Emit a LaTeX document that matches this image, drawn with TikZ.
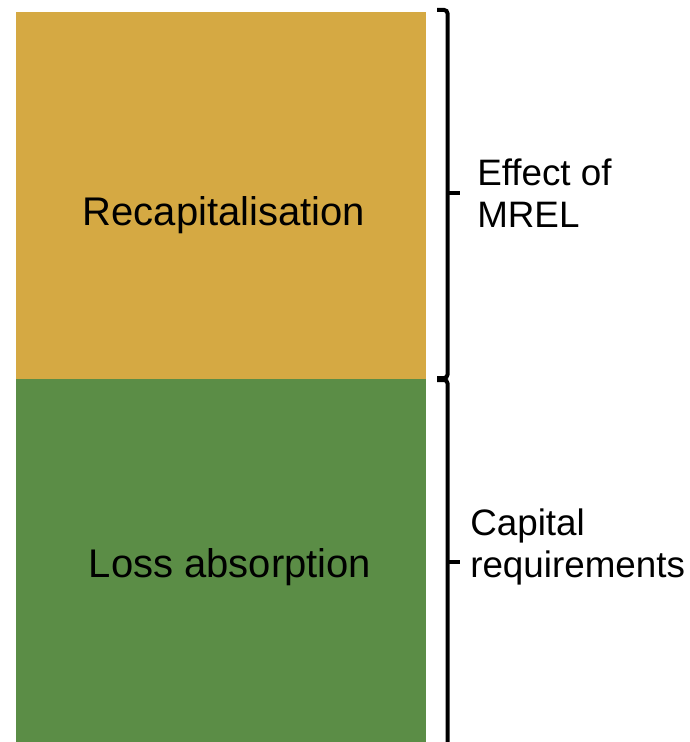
\documentclass[tikz,border=0pt]{standalone}
\usepackage{fontspec}
\setmainfont{Liberation Sans}
\definecolor{goldbox}{HTML}{D5A943}
\definecolor{greenbox}{HTML}{5B8D46}
\begin{document}
\begin{tikzpicture}[x=0.75pt,y=-0.75pt,
  block/.style={draw=none,inner sep=0pt,outer sep=0pt,anchor=north west,minimum width=307.5pt},
  maintext/.style={inner sep=0pt,anchor=base,font=\fontsize{30}{35}\selectfont},
  sidetext/.style={inner sep=0pt,anchor=base west,align=left,font=\fontsize{27.6}{31.5}\selectfont},
  bracket/.style={draw=black,line width=3pt,rounded corners=2.5pt}]
\useasboundingbox (0,0) rectangle (689,742);
\node[block,fill=goldbox,minimum height=275.25pt] (recap) at (16,12) {};
\node[block,fill=greenbox,minimum height=272.25pt] (loss) at (16,379) {};
\node[maintext] (recapt) at (224,225) {Recapitalisation};
\node[maintext] (losst) at (230,577) {Loss absorption};
% brackets
\coordinate (b1a) at (437,10);
\coordinate (b1b) at (447.5,10);
\coordinate (b1c) at (447.5,378);
\coordinate (b1d) at (437,378);
\coordinate (b1m) at (447.5,193);
\coordinate (b1t) at (460,193);
\coordinate (b2a) at (437,380);
\coordinate (b2b) at (447.5,380);
\coordinate (b2c) at (447.5,750);
\coordinate (b2m) at (447.5,562);
\coordinate (b2t) at (460,562);
\draw[bracket] (b1a) -- (b1b) -- (b1c) -- (b1d);
\draw[bracket] (b1m) -- (b1t);
\draw[bracket] (b2a) -- (b2b) -- (b2c);
\draw[bracket] (b2m) -- (b2t);
\node[sidetext] (mrel) at (477,227) {Effect of\\MREL};
\node[sidetext] (capreq) at (470,577) {Capital\\requirements};
\end{tikzpicture}
\end{document}
